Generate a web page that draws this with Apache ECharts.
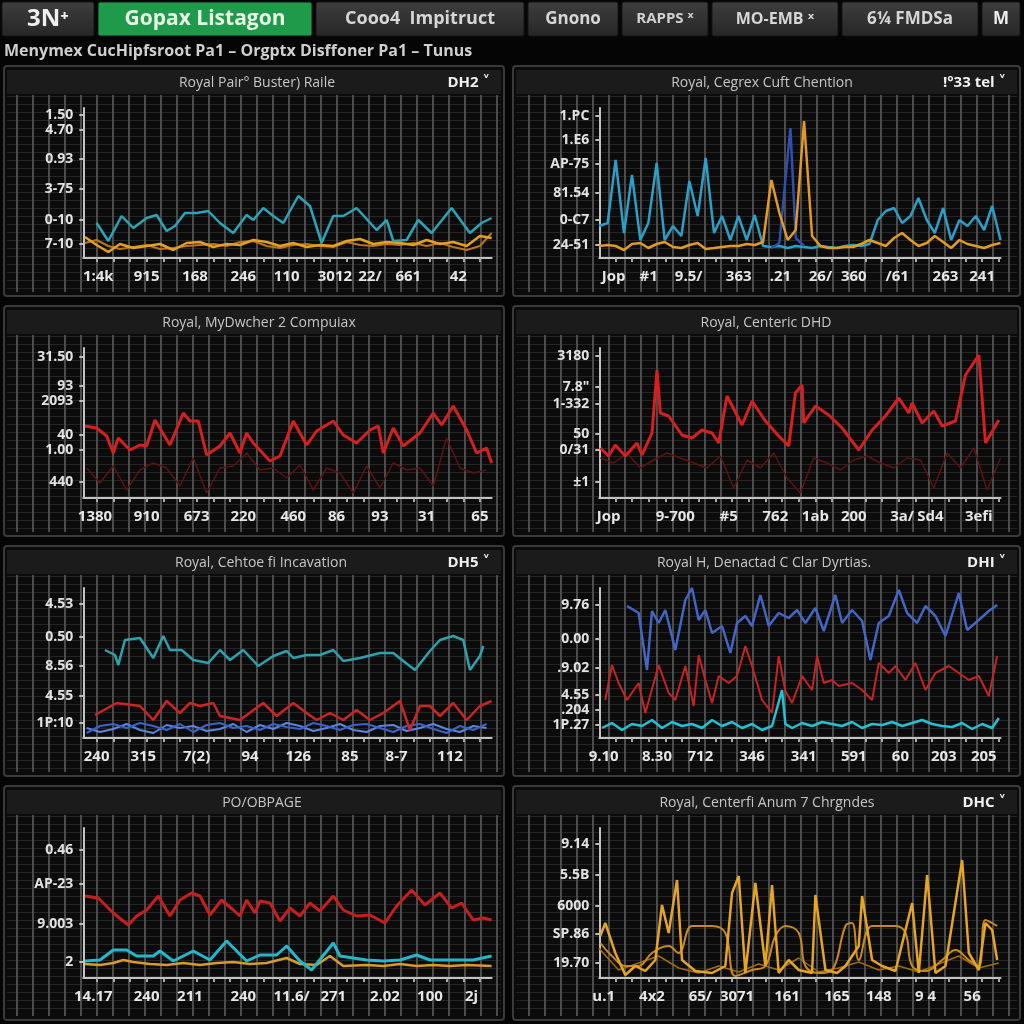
<!DOCTYPE html>
<html><head><meta charset="utf-8">
<script src="https://cdn.jsdelivr.net/npm/echarts@6/dist/echarts.min.js"></script>
<style>html,body{margin:0;padding:0;background:#050505;}#c{width:1024px;height:1024px;}</style>
</head><body><div id="c"></div><script>
// ---------------- DATA ----------------
// Panel 1
const p1XLabels = ["1:4k","915","168","246","110","3012","22/","661","42"];
const p1XLabelAt = [29.5,44,58.5,73,86,100.5,111,122.5,137.5];
const p1YLabels = ["1.50","4.70","0.93","3-75","0-10","7-10"];
const p1YLabelAt = [143,128,99,69,38,14];
const p1TealX = [29,32.5,36.5,40,44,47,50,52.5,55.5,59,62.5,66,70,74,76,79,82,85,89.5,93,96.5,100,103,107,113,116,118,122,125.5,129.5,135.5,141,144.5,147.5];
const p1Teal = [35,17,42,30,40,43,27,32,45,45,47,35,25,43,38,50,42,35,62,52,15,42,42,50,28,38,17,18,38,25,50,25,35,40];
const p1OrangeX = [25.5,29,32.5,36,40,44,48,52,56,60,64,68,72,76,80,84,88,92,96,100,104,108,112,116,120,124,128,132,136,140,144,147.5];
const p1OrangeA = [21,13,6,14,10,12,14,8,15,16,11,14,13,18,16,12,15,11,13,12,17,19,14,16,15,13,18,14,16,12,22,20];
const p1OrangeB = [15,18,12,9,11,13,9,10,12,13,14,12,16,17,12,10,13,14,12,11,16,13,12,14,13,15,12,15,11,8,12,25];
// Panel 2
const p2XLabels = ["Jop","#1","9.5/","363",".21","26/","360","/61","263","241"];
const p2XLabelAt = [30.5,41,53,68,80.5,92.5,102.5,115.5,130,141];
const p2YLabels = ["1.PC","1.E6","AP-75","81.54","0-C7","24-51"];
const p2YLabelAt = [142,118,94,65,38,13];
const p2X = [26.2,28.7,31.1,33.6,36.0,38.5,40.9,43.4,45.8,48.3,50.8,53.2,55.7,58.1,60.6,63.0,65.5,67.9,70.4,72.8,75.3,77.8,80.2,82.7,85.1,87.6,90.0,92.5,94.9,97.4,99.8,102.3,104.7,107.2,109.7,112.1,114.6,117.0,119.5,121.9,124.4,126.8,129.3,131.7,134.2,136.6,139.1,141.6,144.0,146.5];
const p2Teal = [32,35,98,25,83,18,35,95,18,32,22,77,42,100,25,42,18,42,18,43,12,11,12,10,12,11,10,12,11,10,12,13,12,14,38,47,50,35,42,60,38,25,50,18,38,32,42,28,52,18];
const p2Orange = [12,13,12,8,14,15,10,14,16,11,10,13,15,9,10,11,12,12,14,13,16,78,45,18,28,137,22,12,10,10,11,11,14,18,15,12,20,25,18,12,15,22,16,10,18,14,12,10,13,15];
const p2BlueX = [77.8,80.2,83.5,85.1,87.6];
const p2Blue = [10,15,130,20,12];
// Panel 3
const p3XLabels = ["1380","910","673","220","460","86","93","31","65"];
const p3XLabelAt = [28.5,44,59,73,88,101,114,128,144];
const p3YLabels = ["31.50","93","2093","40","1.00","440"];
const p3YLabelAt = [141,112,97,63,48,16];
const p3RedX = [25.5,29,32,34,35.5,39,42,44,46.5,51,55,57,59.5,62,66,69,72,74,76,81,84,88,92,95,100,103,107,111,113.5,115,118,121,126,130,132.5,136,140,143,146,147.5];
const p3Red = [72,70,62,45,60,48,53,52,78,53,85,77,77,43,52,65,45,65,55,37,42,77,53,67,77,63,55,68,72,45,70,52,65,85,73,92,68,45,50,35];
const p3DarkX = [26,30,34,38,42,46,50,54,58,62,66,70,74,78,82,86,90,94,98,102,106,110,114,118,122,126,130,134,138,142,146];
const p3Dark = [30,15,32,8,28,35,30,12,40,5,30,32,45,28,30,20,33,8,30,25,5,32,10,35,28,30,12,60,30,25,28];
// Panel 4
const p4XLabels = ["Jop","9-700","#5","762","1ab","200","3a/","Sd4","3efi"];
const p4XLabelAt = [29,49,65,79,91,102.5,117,125.5,140];
const p4YLabels = ["3180","7.8\"","1-332","50","0/31","±1"];
const p4YLabelAt = [142,111,94,64,48,16];
const p4RedX = [26.5,29,31,34,37.5,39,42,43.5,44.5,47,51,54,57,60,62,64.5,69,72,76,80,83,85,87,87.5,91,95,99,104,108,112,116,119,120,123,126.5,129,133,136,140,142,146];
const p4Red = [50,42,53,42,55,43,65,128,85,82,63,60,68,65,55,102,73,97,77,62,52,105,113,75,92,83,70,48,68,82,100,85,95,75,87,72,77,123,143,55,78];
const p4DarkX = [26.5,30.5,34.5,38.5,42.5,46.5,50.5,54.5,58.5,62.5,66.5,70.5,74.5,78.5,82.5,86.5,90.5,94.5,98.5,102.5,106.5,110.5,114.5,118.5,122.5,126.5,130.5,134.5,138.5,142.5,146.5];
const p4Dark = [40,35,45,30,38,45,40,35,30,42,10,38,30,45,20,5,40,35,28,38,42,35,30,40,38,10,45,30,50,8,40];
// Panel 5
const p5XLabels = ["240","315","7(2)","94","126","85","8-7","112"];
const p5XLabelAt = [29,43,59,75,89.5,105,119,135];
const p5YLabels = ["4.53","0.50","8.56","4.55","1P:10"];
const p5YLabelAt = [134,101,72,42,15];
const p5TealX = [31.5,34.5,35.5,37.5,42,46,49,51,54.5,58,62.5,66,69,73,77.5,82,86,88,92,96,100,103,108,114,118,121,124.5,129,132,136,139,141,144,145];
const p5Teal = [88,83,73,98,100,80,102,88,88,78,75,88,78,88,72,82,87,80,83,83,88,77,80,85,85,77,68,87,98,102,98,68,82,92];
const p5RedX = [28.5,35,42,46,50,54,57,60,64,66,72,79,83,88,92,95,99,103,107,111,115,120,123,126,129,132,136,140,144,147.5];
const p5Red = [23,35,32,18,37,25,35,32,35,22,18,35,22,35,25,18,25,18,28,18,25,37,8,32,32,22,35,18,32,37];
const p5BlueX = [26,30,34,38,42,46,50,54,58,62,66,70,74,78,82,86,90,94,98,102,106,110,114,118,122,126,130,134,138,142,146];
const p5BlueA = [5,12,14,10,15,12,8,14,6,13,15,10,12,8,14,11,9,15,12,8,13,14,10,6,12,14,9,5,12,8,14];
const p5BlueB = [10,6,9,14,8,5,13,10,12,7,9,14,6,13,9,15,12,7,10,14,8,6,12,13,7,10,14,9,6,12,10];
// Panel 6
const p6XLabels = ["9.10","8.30","712","346","341","591","60","203","205"];
const p6XLabelAt = [27.5,43.5,56.5,72,87.5,102.5,116.5,129.5,141.5];
const p6YLabels = ["41.52","9.76","0.00",".9.02","4.55",".204","1P.27"];
const p6YLabelAt = [142,133,99,70,43,28,13];
const p6BlueX = [34.5,38,40.5,42,44,46,49,52,54,56,58,60,63,65.5,67.5,70,72,74.5,77,80,83,85.5,88,91,93.5,97,99,102,105,107.5,110,113,116,118.5,121.5,124,127,130,134,136.5,140,143,145.5];
const p6Blue = [132,125,68,127,115,128,88,138,150,118,128,105,112,85,115,122,112,143,112,125,120,128,115,130,107,143,115,128,117,78,115,122,148,125,115,132,122,102,145,108,118,127,133];
const p6RedX = [28,30,32,34.5,38,40,44,47,49,52,54.5,56,58,60,62,65,67.5,70,72,75,78,80,82,84,87,90,91.5,93.5,96,98,102,105,108,110,113,115,118,121,124,127,131,134,137,140,143,145.5];
const p6Red = [38,73,55,38,55,25,73,45,38,72,32,83,58,35,62,55,62,92,72,38,25,82,47,35,62,48,82,55,58,52,55,48,38,75,65,72,58,75,48,65,72,65,58,62,42,82];
const p6TealX = [27,30,33,36,39,42,45,48,51,54,57,60,63,66,69,72,75,78,81,82,84,87,90,93,96,99,102,105,108,111,114,117,120,123,126,129,132,135,138,141,144,146];
const p6Teal = [10,15,8,14,12,18,10,16,12,14,10,18,12,16,10,14,8,12,48,14,10,15,12,16,14,12,16,10,14,13,16,12,15,18,14,12,11,15,9,14,10,20];
// Panel 7
const p7XLabels = ["14.17","240","211","240","11.6/","271","2.02","100","2j"];
const p7XLabelAt = [28,44,57,73,87.5,100,115.5,129,141.5];
const p7YLabels = ["0.46","AP-23","9.003","2"];
const p7YLabelAt = [128,94,54,16];
const p7RedX = [25.5,29.5,34,38.5,41,44,47.5,51,54,57.5,60,63,66.5,70,72,74,76.5,78,81,84,87,90,93,96,100,103,107,111,115.5,119,123.5,127.5,132,135.5,138.5,142,145,147.5];
const p7Red = [82,80,65,53,62,68,82,62,78,85,82,63,78,68,62,78,65,77,75,57,70,62,75,67,82,68,62,63,55,72,88,73,85,70,75,58,60,58];
const p7TealX = [25.5,30,34,38,41,46,48,52,58,63,68,74,78,83,86,90,93.5,100,102,110,115,120,125,129,135,142,147.5];
const p7Teal = [17,18,28,28,22,22,27,17,27,18,37,17,23,23,32,17,8,35,22,18,17,18,23,18,18,18,22];
const p7OrangeX = [25.5,30,34,37,40,45,50,55,60,65,70,75,80,86,90,95,99,103,110,115,120,125,130,135,140,147.5];
const p7Orange = [14,13,15,18,16,14,13,15,13,15,16,14,15,20,14,13,22,12,13,12,14,12,13,12,13,12];
// Panel 8
const p8XLabels = ["u.1","4x2","65/","3071","161","165","148","9 4","56"];
const p8XLabelAt = [27.5,42,56.5,67.5,82.5,97.5,110,124,138];
const p8YLabels = ["9.14","5.5B","6000","SP.86","19.70"];
const p8YLabelAt = [134,103,72,44,15];
const p8SpikeX = [26.5,28,31,34,37,40,43,45,47,49.5,51,55,60,64,66,68,70,73,76,78,80,83,86,90,91,94,97.5,100,104,105,108,111,115,120,122,124.5,127,130,135,137,140,142,144,145.5];
const p8Spike = [42,55,25,3,12,7,18,73,45,98,18,7,5,12,85,102,5,95,12,93,5,18,8,5,83,8,5,12,32,82,18,12,7,75,5,103,5,12,118,25,8,55,48,18];
const p8PlateauX = [26.5,30,34,38,42,47,50,54,60,64,67,72,76,79,82,86,88,92,96,100,102,104,108,115,118,120,124,129,133,137,140,142,145.5];
const p8Plateau = [35,22,12,12,25,32,25,52,52,45,2,8,12,42,52,45,12,5,8,52,55,18,52,52,45,12,7,18,28,18,12,58,52];
const p8LowX = [26,32,38,44,50,56,62,68,74,80,86,92,98,104,110,116,122,128,134,140,146];
const p8Low = [30,8,15,22,10,5,12,6,14,8,20,6,10,16,8,12,6,14,22,10,15];

// ---------------- CHART ----------------
const FONT = "'Open Sans','DejaVu Sans',sans-serif";
function zip(xs, ys){ return xs.map((x,i)=>[x, ys[i]]); }
function lookup(vals, texts){ return v => { const i = vals.findIndex(a=>Math.abs(a-v)<1e-6); return i<0?'':texts[i]; }; }
function steps(a,b,s){ const r=[]; for(let v=a; v<=b+1e-9; v+=s) r.push(+v.toFixed(2)); return r; }

const L = {left:83.3, width:408.3, min:25, max:147.5};
const R = {left:599.3, width:401.2, min:26.2, max:146.5};
const rowTop = [108, 348, 588, 828];

function ln(xs, ys, color, width, extra){
  return Object.assign({type:'line', data: zip(xs, ys), symbol:'none', lineStyle:{color, width}, itemStyle:{color}}, extra||{});
}

const panels = [
  {col:L,row:0,xa:p1XLabelAt,xl:p1XLabels,ya:p1YLabelAt,yl:p1YLabels,series:[
    ln(p1OrangeX,p1OrangeB,'#b8761c',2),
    ln(p1OrangeX,p1OrangeA,'#e6a020',2.5),
    ln(p1TealX,p1Teal,'#2aa4b6',2.5)]},
  {col:R,row:0,xa:p2XLabelAt,xl:p2XLabels,ya:p2YLabelAt,yl:p2YLabels,series:[
    ln(p2X,p2Teal,'#2b9fc6',2.5),
    ln(p2BlueX,p2Blue,'#2f4fb0',2.5),
    ln(p2X,p2Orange,'#e39a22',2.5)]},
  {col:L,row:1,xa:p3XLabelAt,xl:p3XLabels,ya:p3YLabelAt,yl:p3YLabels,series:[
    ln(p3DarkX,p3Dark,'#5e1313',1.5),
    ln(p3RedX,p3Red,'#d61f1f',3)]},
  {col:R,row:1,xa:p4XLabelAt,xl:p4XLabels,ya:p4YLabelAt,yl:p4YLabels,series:[
    ln(p4DarkX,p4Dark,'#5e1313',1.5),
    ln(p4RedX,p4Red,'#d61f1f',3)]},
  {col:L,row:2,xa:p5XLabelAt,xl:p5XLabels,ya:p5YLabelAt,yl:p5YLabels,series:[
    ln(p5BlueX,p5BlueB,'#5a86e0',2),
    ln(p5BlueX,p5BlueA,'#3b62c8',2),
    ln(p5RedX,p5Red,'#cc2424',2.5),
    ln(p5TealX,p5Teal,'#2ba2ae',2.5)]},
  {col:R,row:2,xa:p6XLabelAt,xl:p6XLabels,ya:p6YLabelAt,yl:p6YLabels,series:[
    ln(p6BlueX,p6Blue,'#4365c4',2.5),
    ln(p6RedX,p6Red,'#c42424',2),
    ln(p6TealX,p6Teal,'#1fc4d4',2.5)]},
  {col:L,row:3,xa:p7XLabelAt,xl:p7XLabels,ya:p7YLabelAt,yl:p7YLabels,series:[
    ln(p7OrangeX,p7Orange,'#d89a28',2.5),
    ln(p7TealX,p7Teal,'#22b8cc',3),
    ln(p7RedX,p7Red,'#c81e1e',3)]},
  {col:R,row:3,xa:p8XLabelAt,xl:p8XLabels,ya:p8YLabelAt,yl:p8YLabels,series:[
    ln(p8LowX,p8Low,'#a06a10',1.5),
    ln(p8PlateauX,p8Plateau,'#c98a1c',2,{smooth:0.4}),
    ln(p8SpikeX,p8Spike,'#e4a424',2.5)]}
];

const grid=[], xAxis=[], yAxis=[], series=[];
panels.forEach((p,i)=>{
  grid.push({left:p.col.left, top:rowTop[p.row], width:p.col.width, height:150});
  xAxis.push({type:'value', gridIndex:i, min:p.col.min, max:p.col.max,
    axisLine:{show:true, onZero:false, lineStyle:{color:'#c4c4c4', width:2}},
    axisTick:{show:true, length:4, customValues: steps(Math.ceil(p.col.min)+4, p.col.max, 5), lineStyle:{color:'#aaa', width:2}},
    splitLine:{show:false},
    axisLabel:{customValues:p.xa, formatter:lookup(p.xa,p.xl), color:'#e6e6e6', fontSize:15, fontWeight:'bold', fontFamily:FONT, margin:11, hideOverlap:false}
  });
  yAxis.push({type:'value', gridIndex:i, min:0, max:150,
    axisLine:{show:true, lineStyle:{color:'#c4c4c4', width:2}},
    axisTick:{show:true, length:4, customValues:p.ya, lineStyle:{color:'#bbb', width:2}},
    splitLine:{show:false},
    axisLabel:{customValues:p.ya, formatter:lookup(p.ya,p.yl), color:'#e2e2e2', fontSize:14, fontWeight:'bold', fontFamily:FONT, margin:10, hideOverlap:false}
  });
  p.series.forEach(s=>{ s.xAxisIndex=i; s.yAxisIndex=i; s.animation=false; series.push(s); });
});

// ------------- decoration (frames, tabs, headers) -------------
function makePattern(){
  const c=document.createElement('canvas'); c.width=16; c.height=8;
  const g=c.getContext('2d');
  g.fillStyle='#0b0b0b'; g.fillRect(0,0,16,8);
  g.fillStyle='#252525'; g.fillRect(0,0,16,1);
  g.fillStyle='#4c4c4c'; g.fillRect(0,0,2,8);
  return c;
}
const pat = makePattern();
const graphics=[];
function tab(x,w,text,fill,color,size){
  graphics.push({type:'rect', z:-5, shape:{x:x,y:2,width:w,height:34,r:2}, style:{fill:fill, stroke:'#151515', lineWidth:1}});
  graphics.push({type:'text', z:-4, x:x+w/2, y:19, style:{text:text, fill:color, font:`bold ${size}px ${FONT}`, align:'center', verticalAlign:'middle'}});
}
const tabGrad = {type:'linear',x:0,y:0,x2:0,y2:1,colorStops:[{offset:0,color:'#3e3e3e'},{offset:1,color:'#262626'}]};
tab(2,92,'3N⁺',tabGrad,'#f0f0f0',24);
tab(98,214,'Gopax Listagon','#1f9a4a','#e8f4e6',21);
tab(316,208,'Cooo4  Impitruct',tabGrad,'#d6d6d6',18);
tab(528,90,'Gnono',tabGrad,'#d6d6d6',17);
tab(622,86,'RAPPS ˣ',tabGrad,'#d0d0d0',15);
tab(712,126,'MO-EMB ˣ',tabGrad,'#d6d6d6',16);
tab(842,136,'6¼ FMDSa',tabGrad,'#d6d6d6',17);
tab(982,38,'M',tabGrad,'#eeeeee',17);
graphics.push({type:'text', z:-4, x:4, y:51, style:{text:'Menymex CucHipfsroot Pa1 – Orgptx Disffoner Pa1 – Tunus', fill:'#cfcfcf', font:`bold 16px ${FONT}`, verticalAlign:'middle'}});

const boxes = [
  {x:4,y:66,w:500,h:230,t:'Royal Pair° Buster) Raile',tag:'DH2 ˅',cx:257},
  {x:513,y:66,w:507,h:230,t:'Royal, Cegrex Cuft Chention',tag:'!°33 tel ˅',cx:762},
  {x:4,y:306,w:500,h:230,t:'Royal, MyDwcher 2 Compuiax',tag:'',cx:259},
  {x:513,y:306,w:507,h:230,t:'Royal, Centeric DHD',tag:'',cx:766},
  {x:4,y:546,w:500,h:230,t:'Royal, Cehtoe fi Incavation',tag:'DH5 ˅',cx:261},
  {x:513,y:546,w:507,h:230,t:'Royal H, Denactad C Clar Dyrtias.',tag:'DHI ˅',cx:764},
  {x:4,y:786,w:500,h:234,t:'PO/OBPAGE',tag:'',cx:262},
  {x:513,y:786,w:507,h:234,t:'Royal, Centerfi Anum 7 Chrgndes',tag:'DHC ˅',cx:767}
];
boxes.forEach(b=>{
  graphics.push({type:'rect', z:-6, shape:{x:b.x,y:b.y,width:b.w,height:b.h,r:3}, style:{fill:'#0b0b0b', stroke:'#3a3a3a', lineWidth:2}});
  graphics.push({type:'rect', z:-5, shape:{x:b.x+3,y:b.y+29,width:b.w-6,height:b.h-33}, style:{fill:{image:pat, repeat:'repeat'}}});
  graphics.push({type:'rect', z:-5, shape:{x:b.x+3,y:b.y+4,width:b.w-6,height:24}, style:{fill:'#1b1b1b'}});
  graphics.push({type:'text', z:-4, x:b.cx, y:b.y+17, style:{text:b.t, fill:'#c6c6c6', font:`14px ${FONT}`, align:'center', verticalAlign:'middle'}});
  if(b.tag) graphics.push({type:'text', z:-4, x:b.x+b.w-14, y:b.y+17, style:{text:b.tag, fill:'#f0f0f0', font:`bold 15px ${FONT}`, align:'right', verticalAlign:'middle'}});
});

const chart = echarts.init(document.getElementById('c'));
chart.setOption({
  backgroundColor:'#050505',
  animation:false,
  graphic:{elements:graphics},
  grid, xAxis, yAxis, series
});
</script></body></html>
